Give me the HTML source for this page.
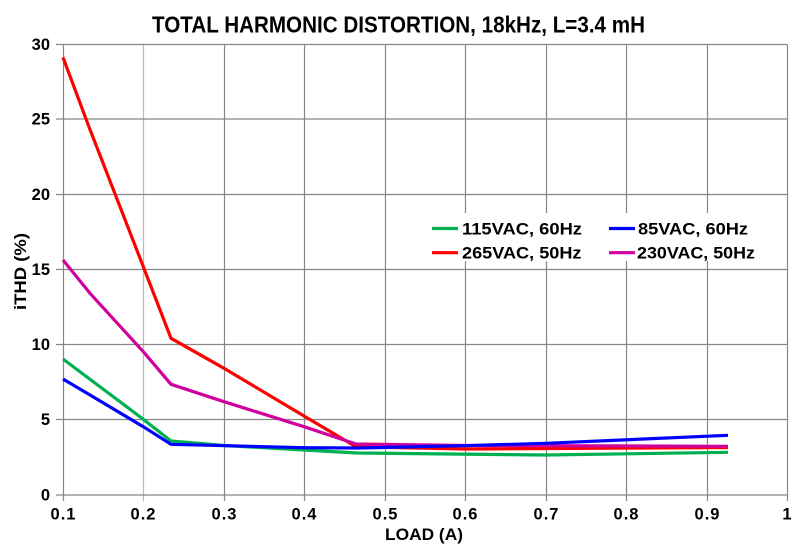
<!DOCTYPE html>
<html><head><meta charset="utf-8"><style>
html,body{margin:0;padding:0;background:#fff;}
svg{display:block;}
text{font-family:"Liberation Sans",sans-serif;font-weight:bold;fill:#000;}
</style></head><body>
<svg width="804" height="556" viewBox="0 0 804 556" xmlns="http://www.w3.org/2000/svg">
<rect width="804" height="556" fill="#fff"/>
<g stroke="#878787" stroke-width="1.2" fill="none">
<line x1="63.5" y1="44.5" x2="63.5" y2="501"/>
<line x1="143.5" y1="44.5" x2="143.5" y2="501" stroke="#b8b8b8"/>
<line x1="224.5" y1="44.5" x2="224.5" y2="501"/>
<line x1="304.5" y1="44.5" x2="304.5" y2="501"/>
<line x1="385.5" y1="44.5" x2="385.5" y2="501"/>
<line x1="465.5" y1="44.5" x2="465.5" y2="501"/>
<line x1="546.5" y1="44.5" x2="546.5" y2="501"/>
<line x1="626.5" y1="44.5" x2="626.5" y2="501"/>
<line x1="707.5" y1="44.5" x2="707.5" y2="501"/>
<line x1="787.5" y1="44.5" x2="787.5" y2="501"/>
<line x1="56" y1="44.5" x2="787.5" y2="44.5"/>
<line x1="56" y1="119" x2="787.5" y2="119"/>
<line x1="56" y1="194.5" x2="787.5" y2="194.5"/>
<line x1="56" y1="269.5" x2="787.5" y2="269.5"/>
<line x1="56" y1="344.5" x2="787.5" y2="344.5"/>
<line x1="56" y1="419.5" x2="787.5" y2="419.5"/>
<line x1="56" y1="495" x2="787.5" y2="495"/>
</g>
<rect x="428" y="213" width="338" height="48" fill="#fff"/>
<g fill="none" stroke-width="3.2" stroke-linejoin="round" stroke-linecap="butt">
<polyline stroke="#00b050" points="63,359 143.3,419.3 171,441 224,445.5 304,450 357,453 546,455 728,452.3"/>
<polyline stroke="#ff0000" points="63,57.3 89,127 143.3,266.7 171,338.3 224,368.3 304,416 356,446.7 465,449 546,448.5 728,447.5"/>
<polyline stroke="#d0009c" points="63,260 90,293.3 143.3,351.7 171,384.3 224,401.7 304,426.7 356,444 465,445.5 728,446.3"/>
<polyline stroke="#0000ff" points="63,379 95.5,398.3 143.3,426.7 171,444.3 304,447.7 357,448 465,445.7 546,443.3 728,435.3"/>
</g>
<text x="398.5" y="32.5" font-size="23" text-anchor="middle" textLength="493" lengthAdjust="spacingAndGlyphs">TOTAL HARMONIC DISTORTION, 18kHz, L=3.4 mH</text>
<g font-size="16.5" text-anchor="end">
<text x="50" y="50">30</text>
<text x="50" y="124.5">25</text>
<text x="50" y="200">20</text>
<text x="50" y="275">15</text>
<text x="50" y="350">10</text>
<text x="50" y="425">5</text>
<text x="50" y="500.5">0</text>
</g>
<g font-size="16.5" text-anchor="middle" letter-spacing="1">
<text x="63.5" y="519.5">0.1</text>
<text x="143.5" y="519.5">0.2</text>
<text x="224.5" y="519.5">0.3</text>
<text x="304.5" y="519.5">0.4</text>
<text x="385.5" y="519.5">0.5</text>
<text x="465.5" y="519.5">0.6</text>
<text x="546.5" y="519.5">0.7</text>
<text x="626.5" y="519.5">0.8</text>
<text x="707.5" y="519.5">0.9</text>
<text x="787.5" y="519.5">1</text>
</g>
<text x="424" y="540" font-size="17" text-anchor="middle" textLength="78" lengthAdjust="spacingAndGlyphs">LOAD (A)</text>
<text transform="translate(26,271.5) rotate(-90)" font-size="17" text-anchor="middle" textLength="77" lengthAdjust="spacingAndGlyphs">iTHD (%)</text>
<g stroke-width="3.2">
<line x1="432" y1="228.5" x2="458" y2="228.5" stroke="#00b050"/>
<line x1="609" y1="228.5" x2="635" y2="228.5" stroke="#0000ff"/>
<line x1="432" y1="252.7" x2="458" y2="252.7" stroke="#ff0000"/>
<line x1="609" y1="252.7" x2="635" y2="252.7" stroke="#d0009c"/>
</g>
<g font-size="17">
<text x="462" y="234.3" textLength="120" lengthAdjust="spacingAndGlyphs">115VAC, 60Hz</text>
<text x="638" y="234.3" textLength="110" lengthAdjust="spacingAndGlyphs">85VAC, 60Hz</text>
<text x="462" y="258.3" textLength="119.5" lengthAdjust="spacingAndGlyphs">265VAC, 50Hz</text>
<text x="637" y="258.3" textLength="118" lengthAdjust="spacingAndGlyphs">230VAC, 50Hz</text>
</g>
</svg>
</body></html>
